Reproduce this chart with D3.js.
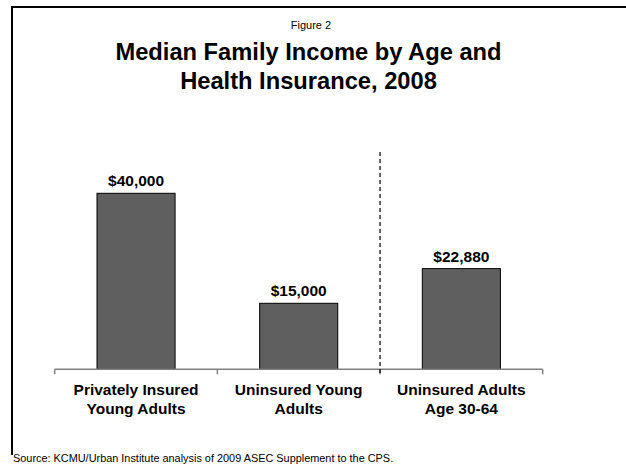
<!DOCTYPE html>
<html>
<head>
<meta charset="utf-8">
<script src="https://cdn.jsdelivr.net/npm/d3@7"></script>
<style>
  html, body { margin: 0; padding: 0; background: #fff; }
  svg { display: block; font-family: "Liberation Sans", Arial, sans-serif; }
</style>
</head>
<body>
<svg id="chart" width="626" height="464"></svg>
<script>
// Median family income, 2008
const categories = [
  ["Privately Insured", "Young Adults"],
  ["Uninsured Young", "Adults"],
  ["Uninsured Adults", "Age 30-64"]
];
const values = [40000, 15000, 22880];
const valueLabels = ["$40,000", "$15,000", "$22,880"];
const yDomain = [0, 50000];

const svg = d3.select("#chart");

// slide frame (top and left edges fall inside the view)
svg.append("path")
  .attr("d", "M12,455V7H626")
  .attr("fill", "none").attr("stroke", "#000").attr("stroke-width", 2);

svg.append("text")
  .attr("x", 311).attr("y", 29)
  .attr("text-anchor", "middle")
  .attr("font-size", 11)
  .text("Figure 2");

const title = svg.append("text")
  .attr("text-anchor", "middle")
  .attr("font-size", 23.7).attr("font-weight", "bold");
title.append("tspan").attr("x", 308.5).attr("y", 59.5).text("Median Family Income by Age and");
title.append("tspan").attr("x", 308.5).attr("y", 88.5).text("Health Insurance, 2008");

const plotLeft = 54.7, plotRight = 542.7, plotTop = 149.3, plotBase = 369.3;

const keys = categories.map(c => c.join(" "));
const x = d3.scaleBand().domain(keys).range([plotLeft, plotRight])
  .paddingInner(0.52).paddingOuter(0.26);
const y = d3.scaleLinear().domain(yDomain).range([plotBase, plotTop]);

// bars
svg.append("g").selectAll("rect")
  .data(values)
  .join("rect")
  .attr("x", (d, i) => x(keys[i]))
  .attr("y", d => y(d))
  .attr("width", x.bandwidth())
  .attr("height", d => y(0) - y(d))
  .attr("fill", "#5f5f5f")
  .attr("stroke", "#000")
  .attr("stroke-width", 1);

// value labels
svg.append("g").selectAll("text")
  .data(values)
  .join("text")
  .attr("x", (d, i) => x(keys[i]) + x.bandwidth() / 2)
  .attr("y", d => y(d) - 7)
  .attr("text-anchor", "middle")
  .attr("font-size", 15.5).attr("font-weight", "bold")
  .text((d, i) => valueLabels[i]);

// category axis with ticks between groups
const axis = svg.append("g").attr("transform", `translate(0,${plotBase})`);
axis.append("line")
  .attr("x1", plotLeft).attr("x2", plotRight)
  .attr("stroke", "#808080").attr("stroke-width", 1.5);
const step = x.step();
axis.selectAll("line.tick")
  .data(d3.range(keys.length + 1))
  .join("line")
  .attr("class", "tick")
  .attr("x1", i => plotLeft + i * step).attr("x2", i => plotLeft + i * step)
  .attr("y1", 0).attr("y2", 5)
  .attr("stroke", "#808080").attr("stroke-width", 1.5);

const catText = axis.selectAll("text")
  .data(categories)
  .join("text")
  .attr("text-anchor", "middle")
  .attr("font-size", 15.5).attr("font-weight", "bold");
catText.each(function(lines, i) {
  const cx = x(keys[i]) + x.bandwidth() / 2;
  d3.select(this).selectAll("tspan")
    .data(lines)
    .join("tspan")
    .attr("x", cx)
    .attr("y", (l, j) => 26 + j * 19)
    .text(l => l);
});

// dashed divider between young adults and older adults
const divX = plotLeft + 2 * step;
svg.append("line")
  .attr("x1", divX).attr("x2", divX)
  .attr("y1", 152).attr("y2", plotBase + 5)
  .attr("stroke", "#000").attr("stroke-width", 1.2)
  .attr("stroke-dasharray", "4,3");

svg.append("text")
  .attr("x", 13).attr("y", 462)
  .attr("font-size", 10.9)
  .text("Source: KCMU/Urban Institute analysis of 2009 ASEC Supplement to the CPS.");
</script>
</body>
</html>
